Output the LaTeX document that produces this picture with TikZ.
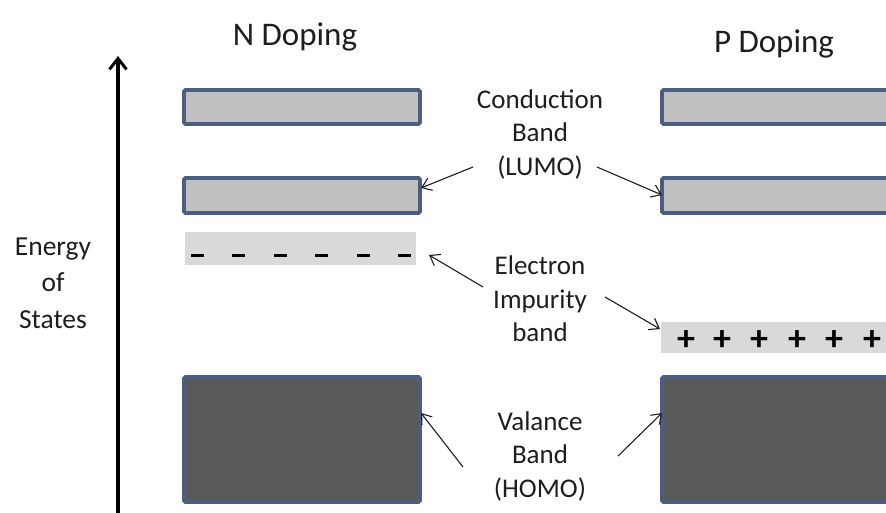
\documentclass[tikz,border=0pt]{standalone}
\usepackage{fontspec}
\setmainfont{Carlito}
\usetikzlibrary{arrows.meta}
\definecolor{bandedge}{HTML}{4B5E7F}
\definecolor{bandfill}{HTML}{C0C0C0}
\definecolor{impfill}{HTML}{D9D9D9}
\definecolor{valfill}{HTML}{595959}
\definecolor{txt}{HTML}{1E1E1E}
\tikzset{
  condband/.style={draw=bandedge, line width=3.8pt, fill=bandfill, rounded corners=1.5pt},
  valband/.style={draw=bandedge, line width=3.8pt, fill=valfill, rounded corners=1.5pt},
  impband/.style={fill=impfill},
  lbl/.style={text=txt, font=\fontsize{27}{33.5}\selectfont, align=center, inner sep=0pt},
  ttl/.style={text=txt, font=\fontsize{33}{38}\selectfont, inner sep=0pt},
  sign/.style={text=black, font=\bfseries\fontsize{36}{36}\selectfont, inner sep=0pt},
  pointer/.style={line width=1.1pt, draw=txt, -{Straight Barb[length=9pt,width=13pt,line width=1.1pt]}},
}
\begin{document}
\begin{tikzpicture}[x=1pt,y=-1pt]
\useasboundingbox (0,0) rectangle (886,513);
\fill[white] (0,0) rectangle (886,513);
\clip (0,0) rectangle (886,513);

% axis
\coordinate (axb) at (118,520);
\coordinate (axt) at (118,56);
\draw[line width=3.2pt, -{Straight Barb[length=11pt,width=17pt,line width=3pt]}] (axb) -- (axt);
\node[lbl, font=\fontsize{27.5}{36.5}\selectfont] (energy) at (53,283) {Energy\\of\\States};

% titles
\node[ttl] (ntitle) at (295,37) {N Doping};
\node[ttl] (ptitle) at (774,44) {P Doping};

% N side
\draw[condband] (184,90) rectangle (420,124);
\node[inner sep=0pt, minimum width=236pt, minimum height=36pt] (nc) at (302,195.5) {};
\draw[condband] (184,178) rectangle (420,213);
\node[impband, inner sep=0pt, minimum width=231pt, minimum height=33pt] (ni) at (300.5,248.5) {};
\foreach \x in {197,238,280,321,363,404}
  \fill[black] (\x-6.5,253.5) rectangle (\x+6.5,257);
\node[inner sep=0pt, minimum width=238pt, minimum height=127pt] (nv) at (302,439.5) {};
\draw[valband] (184,377) rectangle (420,502);

% P side
\draw[condband] (662,90) rectangle (900,124);
\draw[condband] (662,178) rectangle (900,213);
\node[inner sep=0pt, minimum width=238pt, minimum height=36pt] (pc) at (781,195.5) {};
\fill[impfill] (661,322) rectangle (900,353);
\node[inner sep=0pt, minimum width=240pt, minimum height=31pt] (pi) at (781,337.5) {};
\foreach \x in {686,722,759,797,834,872}
  \node[sign] at (\x,341) {+};
\draw[valband] (662,377) rectangle (900,502);
\node[inner sep=0pt, minimum width=238pt, minimum height=127pt] (pv) at (781,439.5) {};

% labels
\node[lbl] (lumo) at (540,134) {Conduction\\Band\\(LUMO)};
\node[lbl] (imp) at (540,299) {Electron\\Impurity\\band};
\node[lbl] (homo) at (540,456) {Valance\\Band\\(HOMO)};

% pointers
\coordinate (l1s) at (473,167);
\coordinate (l1e) at (421,188);
\coordinate (l2s) at (597,167);
\coordinate (l2e) at (662,195);
\coordinate (e1s) at (483,287);
\coordinate (e1e) at (429,255);
\coordinate (e2s) at (605,297);
\coordinate (e2e) at (660,329);
\coordinate (v1s) at (463,467);
\coordinate (v1e) at (421,413);
\coordinate (v2s) at (618,456);
\coordinate (v2e) at (662,413);
\draw[pointer] (l1s) -- (l1e);
\draw[pointer] (l2s) -- (l2e);
\draw[pointer] (e1s) -- (e1e);
\draw[pointer] (e2s) -- (e2e);
\draw[pointer] (v1s) -- (v1e);
\draw[pointer] (v2s) -- (v2e);
\end{tikzpicture}
\end{document}
